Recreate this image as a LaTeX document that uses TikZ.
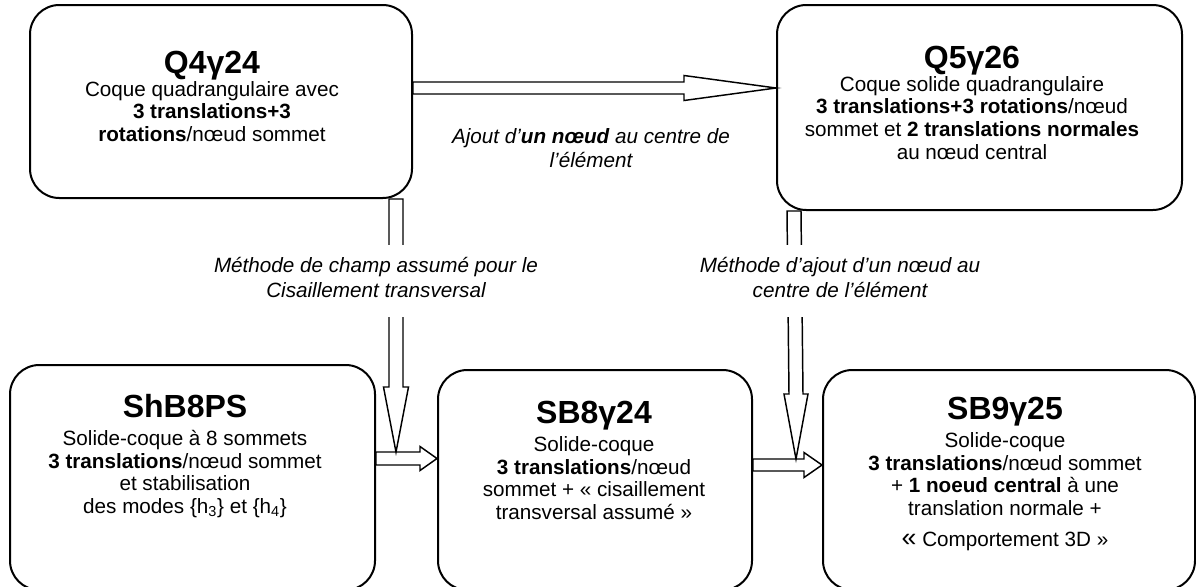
\documentclass[tikz,border=0pt]{standalone}
\usepackage{fontspec}
\setmainfont{Liberation Sans}
\usetikzlibrary{calc}
\newcommand\boxtitle[1]{{\fontsize{24}{17}\selectfont\bfseries #1}}
% horizontal block arrow: start, end(tip), half shaft, half head, head length
\newcommand\blockH[5]{%
  \draw[blk] ($(#1)+(0,-#3)$) -- ($(#2)+(-#5,-#3)$) -- ($(#2)+(-#5,-#4)$) -- (#2)
    -- ($(#2)+(-#5,#4)$) -- ($(#2)+(-#5,#3)$) -- ($(#1)+(0,#3)$) -- cycle;}
% vertical (downward) block arrow
\newcommand\blockV[5]{%
  \draw[blk] ($(#1)+(-#3,0)$) -- ($(#2)+(-#3,-#5)$) -- ($(#2)+(-#4,-#5)$) -- (#2)
    -- ($(#2)+(#4,-#5)$) -- ($(#2)+(#3,-#5)$) -- ($(#1)+(#3,0)$) -- cycle;}
\begin{document}
\begin{tikzpicture}[x=0.75pt,y=-0.75pt,
  box/.style={draw, line width=1.5pt, rounded corners=22pt, inner sep=0pt},
  txt/.style={align=center, font=\fontsize{15.5}{17}\selectfont, inner sep=0pt, anchor=north},
  lab/.style={align=center, font=\fontsize{15.5}{18.5}\selectfont\itshape, inner xsep=2pt, inner ysep=0pt, anchor=north},
  blk/.style={draw, line width=1.1pt, fill=white, line join=miter}]
\useasboundingbox (0,0) rectangle (1196,586);
% boxes
\node[box, minimum width=286.5pt, minimum height=144.75pt] (q4) at (221,101.5) {};
\node[box, minimum width=303.75pt, minimum height=153.75pt] (q5) at (979.5,107.5) {};
\node[box, minimum width=273.75pt, minimum height=168.75pt] (shb) at (192.5,477.5) {};
\node[box, minimum width=235.5pt, minimum height=165pt] (sb8) at (595,480) {};
\node[box, minimum width=279pt, minimum height=165pt] (sb9) at (1009,480) {};
% box texts
\node[txt] (q4t) at (212,51) {\boxtitle{Q4γ24}\\Coque quadrangulaire avec\\\textbf{3 translations+3}\\\textbf{rotations}/nœud sommet};
\node[txt] (q5t) at (972,46) {\boxtitle{Q5γ26}\\Coque solide quadrangulaire\\\textbf{3 translations+3 rotations}/nœud\\sommet et \textbf{2 translations normales}\\au nœud central};
\node[txt] (shbt) at (185,394) {\boxtitle{ShB8PS}\\[4pt]Solide-coque à 8 sommets\\\textbf{3 translations}/nœud sommet\\et stabilisation\\des modes \{h\textsubscript{3}\} et \{h\textsubscript{4}\}};
\node[txt] (sb8t) at (594,401) {\boxtitle{SB8γ24}\\[4pt]Solide-coque\\\textbf{3 translations}/nœud\\sommet + «~cisaillement\\transversal assumé~»};
\node[txt] (sb9t) at (1005,397) {\boxtitle{SB9γ25}\\[4pt]Solide-coque\\\textbf{3 translations}/nœud sommet\\+ \textbf{1 noeud central} à une\\translation normale +\\[6pt]{\fontsize{20}{17}\selectfont «} Comportement 3D »};
% arrow axis coordinates
\coordinate (aS) at ($(q4.north east)+(0,84)$);
\coordinate (aE) at ($(q5.north west)+(0,84)$);
\coordinate (cS) at ($(shb.north east)+(0,94.5)$);
\coordinate (cE) at ($(sb8.north west)+(0,89.5)$);
\coordinate (bS) at ($(q4.south east)+(-17,0)$);
\coordinate (bE) at ($(cS)+(20,-6.5)$);
\coordinate (eS) at ($(sb8.north east)+(0,96)$);
\coordinate (eE) at ($(sb9.north west)+(0,96)$);
\coordinate (dS) at ($(q5.south west)+(18,0)$);
\coordinate (dE) at ($(eS)+(43,-6)$);
% arrows
\blockH{aS}{aE}{6}{12.5}{92}
\blockH{cS}{cE}{6.5}{12}{17}
\blockV{bS}{bE}{7}{12.5}{65}
\blockH{eS}{eE}{6}{12.5}{18}
\blockV{dS}{dE}{7}{12}{65}
% labels
\node[lab] (la) at (591,128) {Ajout d’\textbf{un nœud} au centre de\\l’élément};
\node[lab, fill=white, inner ysep=9pt, text depth=6pt] (lb) at (376,245) {Méthode de champ assumé pour le\\Cisaillement transversal};
\node[lab, fill=white, inner ysep=9pt, text depth=6pt] (ld) at (840,245) {Méthode d’ajout d’un nœud au\\centre de l’élément};
\end{tikzpicture}
\end{document}
